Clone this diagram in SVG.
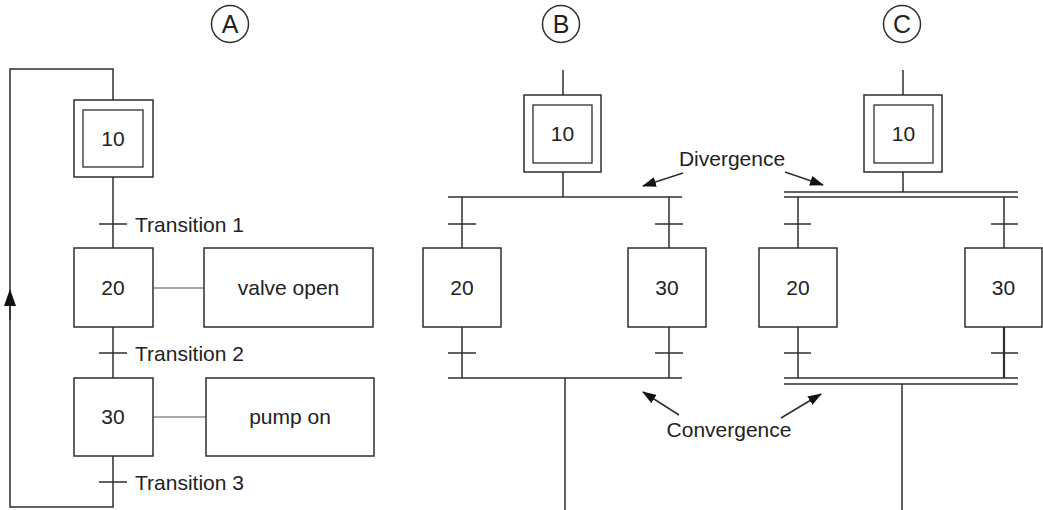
<svg xmlns="http://www.w3.org/2000/svg" width="1043" height="510" viewBox="0 0 1043 510">
<defs>
<style>
.ln{stroke:#2e2e2e;stroke-width:1.5;fill:none}
.thin{stroke:#555;stroke-width:1;fill:none}
.box{stroke:#2e2e2e;stroke-width:1.5;fill:#fff}
.inner{stroke:#2e2e2e;stroke-width:1.3;fill:none}
.t{font-family:"Liberation Sans",Arial,sans-serif;font-size:21px;fill:#222}
.c{text-anchor:middle}
.lab{font-family:"Liberation Sans",Arial,sans-serif;font-size:25px;fill:#222;text-anchor:middle}
</style>
<marker id="ah" viewBox="0 0 14 10" refX="13" refY="5" markerWidth="14" markerHeight="10" markerUnits="userSpaceOnUse" orient="auto">
<path d="M0,0 L14,5 L0,10 Z" fill="#111"/>
</marker>
<marker id="ahBig" viewBox="0 0 17 12" refX="16" refY="6" markerWidth="17" markerHeight="12" markerUnits="userSpaceOnUse" orient="auto">
<path d="M0,0 L17,6 L0,12 Z" fill="#111"/>
</marker>
</defs>
<rect width="1043" height="510" fill="#fff"/>

<!-- Labels -->
<g id="labelA"><circle cx="230" cy="24" r="18.5" class="ln"/><text x="230" y="33" class="lab">A</text></g>
<g id="labelB"><circle cx="561" cy="24" r="18.5" class="ln"/><text x="561" y="33" class="lab">B</text></g>
<g id="labelC"><circle cx="902" cy="24" r="18.5" class="ln"/><text x="902" y="33" class="lab">C</text></g>

<!-- Connectors -->
<g id="connectors">
  <!-- Panel A -->
  <path class="ln" d="M113,100 V69 H10 V507 H113 V456"/>
  <path class="ln" d="M10,320 V290" marker-end="url(#ahBig)"/>
  <path class="ln" d="M113,177 V248"/>
  <path class="ln" d="M99,224 H127"/>
  <path class="ln" d="M113,327 V378"/>
  <path class="ln" d="M99,353 H127"/>
  <path class="ln" d="M99,482 H127"/>
  <path class="thin" d="M153,288 H204"/>
  <path class="thin" d="M153,417 H206"/>

  <!-- Panel B -->
  <path class="ln" d="M563,70 V95"/>
  <path class="ln" d="M563,172 V197"/>
  <path class="ln" d="M448,197 H682"/>
  <path class="ln" d="M462,197 V248"/>
  <path class="ln" d="M669,197 V248"/>
  <path class="ln" d="M448,224 H476"/>
  <path class="ln" d="M655,224 H683"/>
  <path class="ln" d="M462,327 V378"/>
  <path class="ln" d="M669,327 V378"/>
  <path class="ln" d="M448,353 H476"/>
  <path class="ln" d="M655,353 H683"/>
  <path class="ln" d="M448,378 H682"/>
  <path class="ln" d="M565,378 V510"/>

  <!-- Panel C -->
  <path class="ln" d="M903,70 V95"/>
  <path class="ln" d="M903,172 V192"/>
  <path class="ln" d="M784,192 H1018"/>
  <path class="ln" d="M784,197 H1018"/>
  <path class="ln" d="M798,197 V248"/>
  <path class="ln" d="M1004,197 V248"/>
  <path class="ln" d="M784,224 H811"/>
  <path class="ln" d="M991,224 H1018"/>
  <path class="ln" d="M798,327 V378"/>
  <path class="ln" d="M1004,327 V378" style="stroke-width:2.2"/>
  <path class="ln" d="M784,353 H811"/>
  <path class="ln" d="M991,353 H1018"/>
  <path class="ln" d="M784,378 H1018"/>
  <path class="ln" d="M784,384 H1018"/>
  <path class="ln" d="M902,384 V510"/>

  <!-- Annotation arrows -->
  <path class="ln" d="M683,173 L643,186" marker-end="url(#ah)"/>
  <path class="ln" d="M785,172 L823,185" marker-end="url(#ah)"/>
  <path class="ln" d="M679,415 L643,392" marker-end="url(#ah)"/>
  <path class="ln" d="M781,418 L821,394" marker-end="url(#ah)"/>
</g>

<!-- Panel A nodes -->
<g id="A_step10"><rect x="74" y="100" width="79" height="77" class="box"/><rect x="83" y="110" width="60" height="57" class="inner"/><text x="113" y="146" class="t c">10</text></g>
<g id="A_t1"><text x="135" y="232" class="t">Transition 1</text></g>
<g id="A_step20"><rect x="74" y="248" width="79" height="79" class="box"/><text x="113" y="295" class="t c">20</text></g>
<g id="A_valve"><rect x="204" y="248" width="169" height="79" class="box"/><text x="288.5" y="295" class="t c">valve open</text></g>
<g id="A_t2"><text x="135" y="361" class="t">Transition 2</text></g>
<g id="A_step30"><rect x="74" y="378" width="79" height="78" class="box"/><text x="113" y="424" class="t c">30</text></g>
<g id="A_pump"><rect x="206" y="378" width="168" height="78" class="box"/><text x="290" y="424" class="t c">pump on</text></g>
<g id="A_t3"><text x="135" y="490" class="t">Transition 3</text></g>

<!-- Panel B nodes -->
<g id="B_step10"><rect x="524" y="95" width="77" height="77" class="box"/><rect x="533" y="105" width="59" height="58" class="inner"/><text x="562.5" y="141" class="t c">10</text></g>
<g id="B_step20"><rect x="423" y="248" width="78" height="79" class="box"/><text x="462" y="295" class="t c">20</text></g>
<g id="B_step30"><rect x="628" y="248" width="78" height="79" class="box"/><text x="667" y="295" class="t c">30</text></g>

<!-- Panel C nodes -->
<g id="C_step10"><rect x="864" y="95" width="78" height="77" class="box"/><rect x="874" y="105" width="59" height="58" class="inner"/><text x="903.5" y="141" class="t c">10</text></g>
<g id="C_step20"><rect x="759" y="248" width="78" height="79" class="box"/><text x="798" y="295" class="t c">20</text></g>
<g id="C_step30"><rect x="965" y="248" width="77" height="79" class="box"/><text x="1003.5" y="295" class="t c">30</text></g>

<!-- Annotations -->
<g id="divergence"><text x="732" y="166" class="t c">Divergence</text></g>
<g id="convergence"><text x="729" y="437" class="t c">Convergence</text></g>
</svg>
